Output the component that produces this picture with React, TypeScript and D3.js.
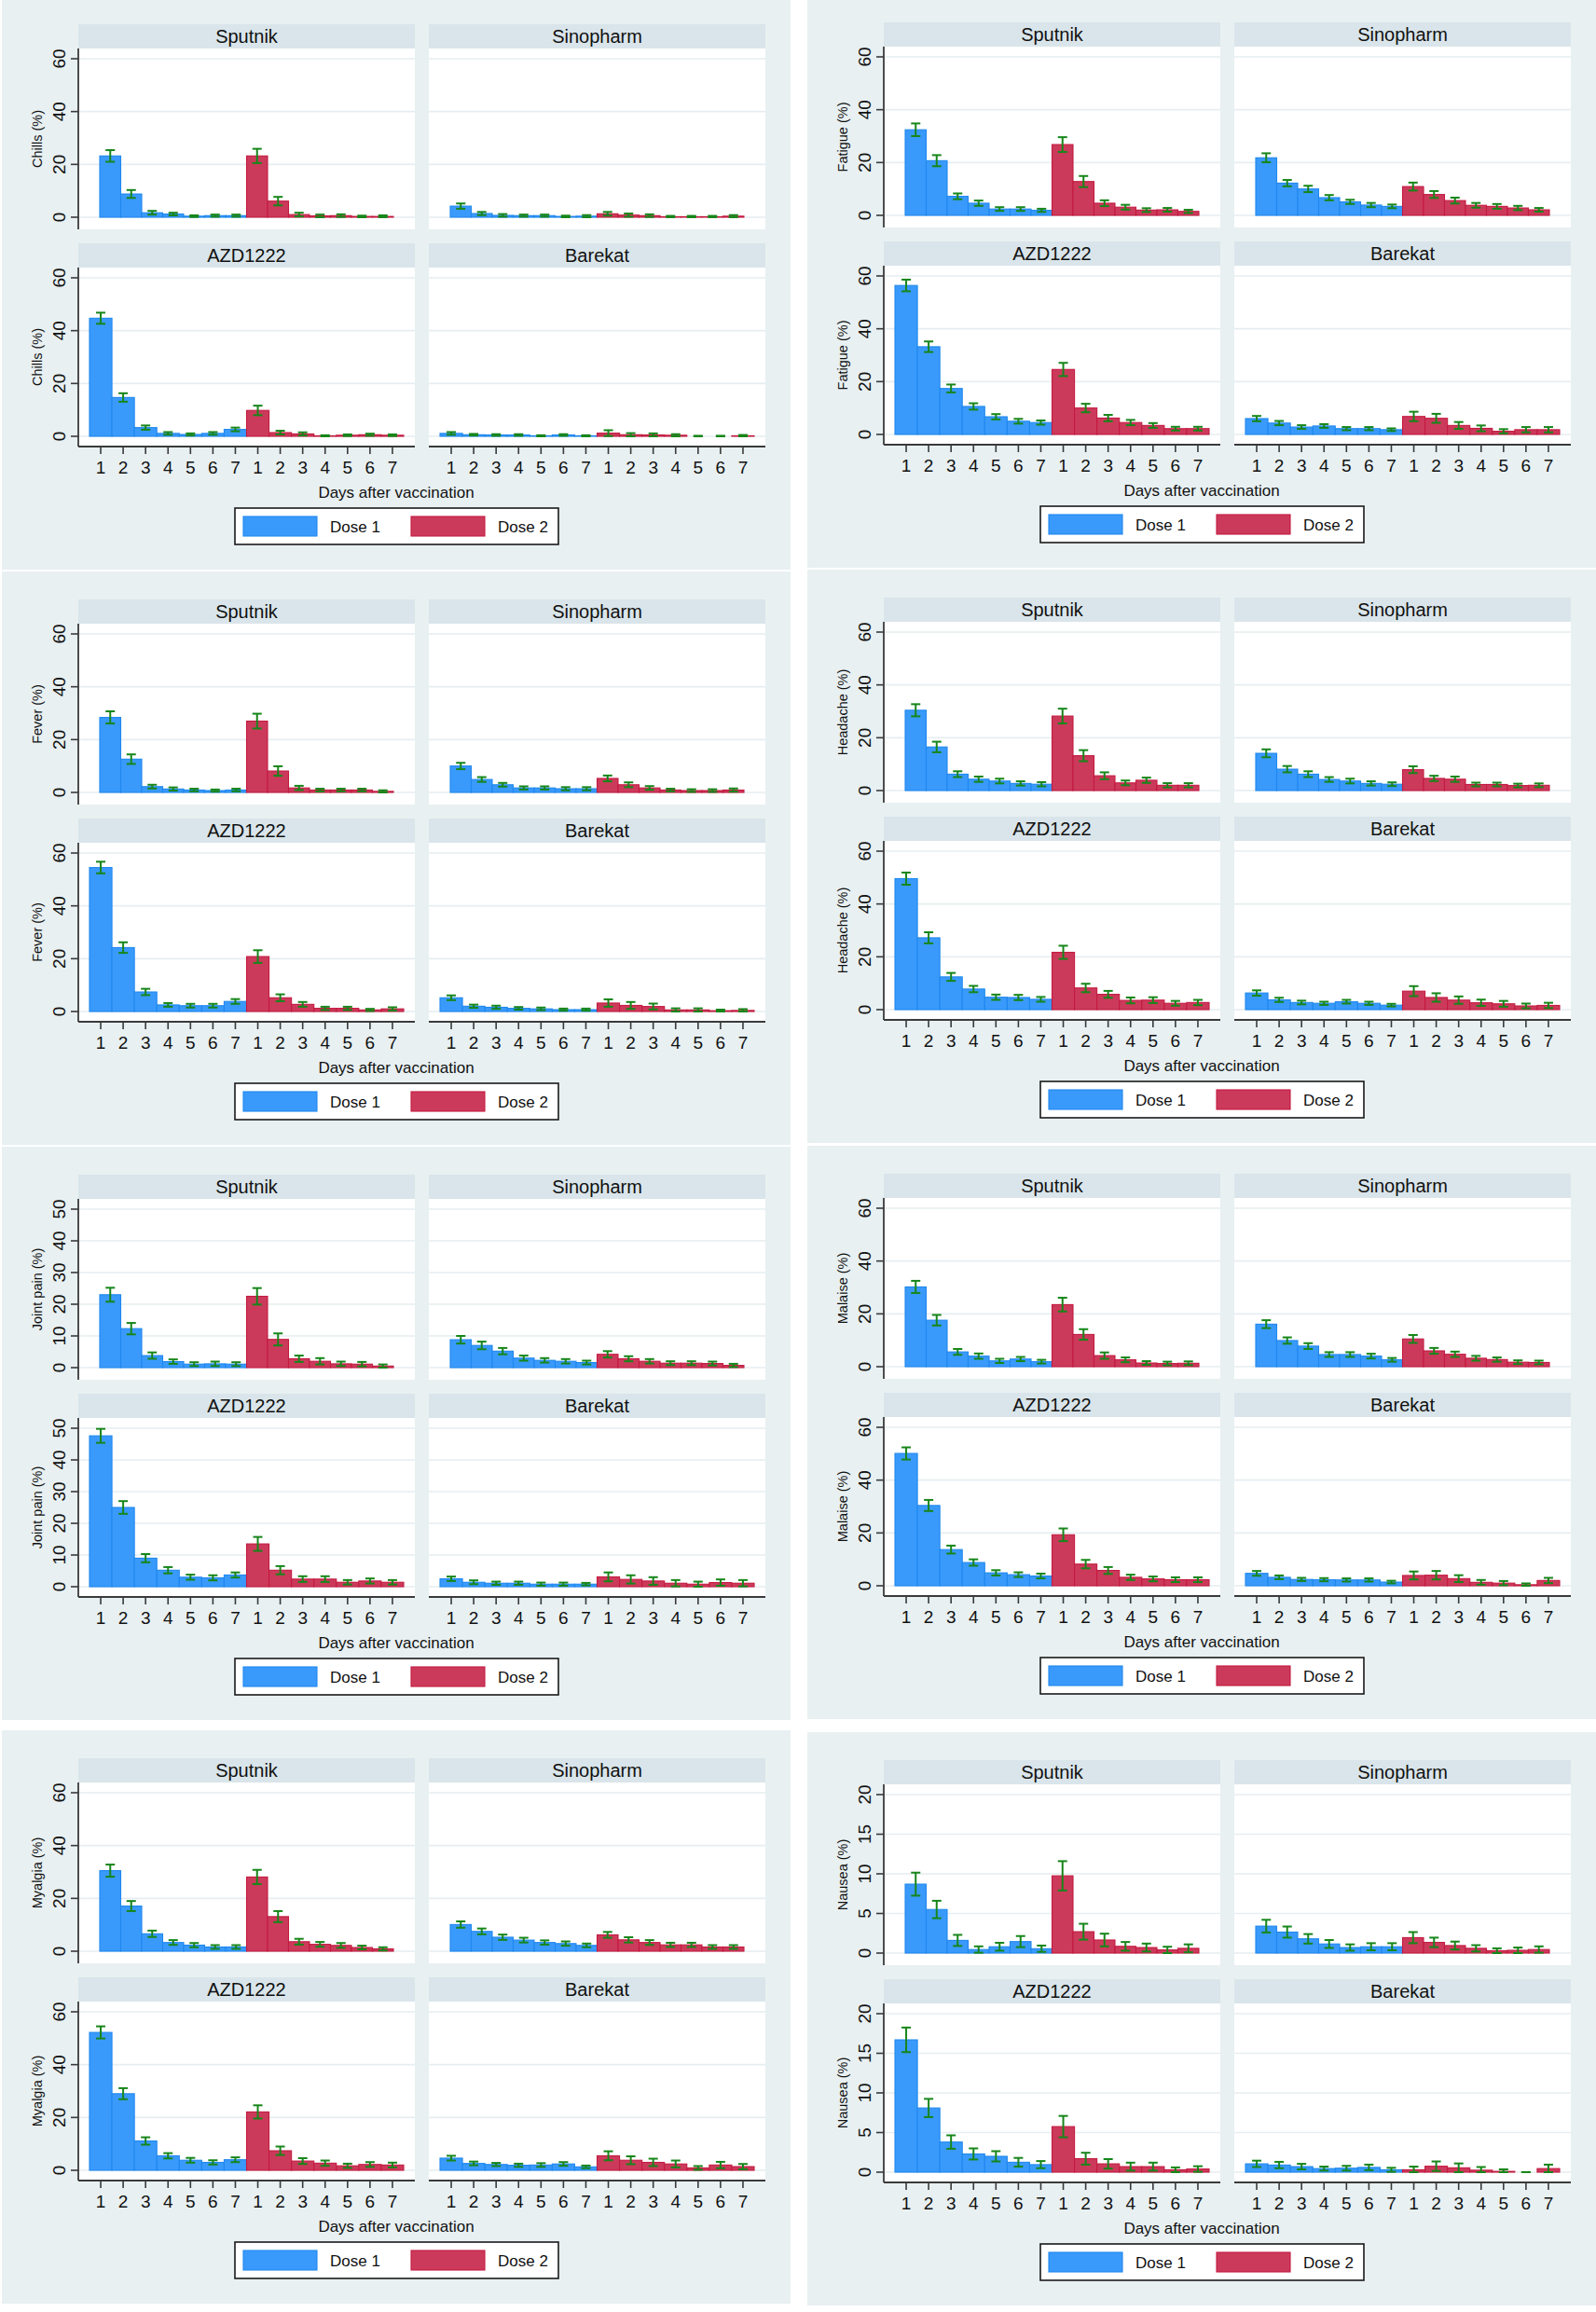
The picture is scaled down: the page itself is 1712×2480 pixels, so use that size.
import React from "react";
import * as d3 from "d3";

// vaccines in facet order: top-left, top-right, bottom-left, bottom-right
const VACCINES = ["Sputnik", "Sinopharm", "AZD1222", "Barekat"];
const DAY_LABELS = ["1", "2", "3", "4", "5", "6", "7", "1", "2", "3", "4", "5", "6", "7"];
const DOSES = ["Dose 1", "Dose 2"];

// each array: dose 1 days 1-7, then dose 2 days 1-7 (%); *Err = half width of CI
const chillsSputnik = [23.2, 8.8, 1.7, 1.2, 0.4, 0.6, 0.6, 23.2, 6.1, 1.0, 0.5, 0.6, 0.3, 0.3];
const chillsSputnikErr = [2.2, 1.5, 0.7, 0.5, 0.3, 0.4, 0.4, 2.7, 1.6, 0.7, 0.5, 0.5, 0.3, 0.4];
const chillsSinopharm = [4.2, 1.4, 0.7, 0.6, 0.6, 0.3, 0.4, 1.3, 0.8, 0.6, 0.2, 0.2, 0.2, 0.4];
const chillsSinopharmErr = [1.0, 0.6, 0.5, 0.4, 0.4, 0.3, 0.4, 0.7, 0.6, 0.5, 0.3, 0.3, 0.3, 0.4];
const chillsAZD = [44.7, 14.7, 3.3, 1.1, 0.7, 1.1, 2.6, 9.8, 1.4, 0.9, 0.2, 0.4, 0.6, 0.4];
const chillsAZDErr = [2.1, 1.6, 0.8, 0.5, 0.4, 0.5, 0.7, 1.8, 0.7, 0.6, 0.2, 0.3, 0.4, 0.3];
const chillsBarekat = [1.1, 0.6, 0.5, 0.5, 0.2, 0.5, 0.2, 1.2, 0.6, 0.5, 0.4, 0.0, 0.0, 0.2];
const chillsBarekatErr = [0.5, 0.3, 0.3, 0.3, 0.2, 0.3, 0.2, 1.1, 0.6, 0.6, 0.4, 0.2, 0.2, 0.3];

const fatigueSputnik = [32.4, 20.7, 7.2, 4.6, 2.4, 2.4, 1.9, 26.8, 12.8, 4.6, 3.1, 2.0, 2.1, 1.5];
const fatigueSputnikErr = [2.4, 2.1, 1.1, 1.0, 0.7, 0.7, 0.6, 2.8, 2.1, 1.1, 0.9, 0.7, 0.7, 0.6];
const fatigueSinopharm = [21.8, 12.2, 10.0, 6.7, 5.1, 3.9, 3.4, 10.9, 7.9, 5.6, 3.8, 3.4, 2.8, 2.1];
const fatigueSinopharmErr = [1.7, 1.2, 1.2, 1.0, 0.8, 0.8, 0.7, 1.5, 1.3, 1.1, 0.9, 0.9, 0.8, 0.7];
const fatigueAZD = [56.4, 33.2, 17.4, 10.6, 6.7, 5.0, 4.5, 24.6, 10.0, 6.2, 4.5, 3.4, 2.2, 2.2];
const fatigueAZDErr = [2.2, 2.0, 1.5, 1.2, 1.0, 0.9, 0.8, 2.5, 1.6, 1.2, 1.0, 0.9, 0.7, 0.7];
const fatigueBarekat = [6.0, 4.3, 2.8, 3.2, 2.2, 2.2, 1.8, 6.8, 6.1, 3.4, 2.3, 1.2, 1.8, 1.8];
const fatigueBarekatErr = [1.0, 0.8, 0.7, 0.7, 0.6, 0.6, 0.5, 1.8, 1.7, 1.3, 1.1, 0.8, 1.0, 1.0];

const feverSputnik = [28.4, 12.6, 2.2, 1.3, 0.9, 0.7, 0.9, 27.0, 8.1, 1.7, 0.9, 0.9, 0.9, 0.4];
const feverSputnikErr = [2.3, 1.8, 0.7, 0.6, 0.5, 0.4, 0.5, 2.8, 1.8, 0.8, 0.5, 0.5, 0.5, 0.4];
const feverSinopharm = [10.0, 4.9, 2.9, 1.7, 1.7, 1.4, 1.4, 5.3, 2.9, 1.7, 0.9, 0.7, 0.7, 0.9];
const feverSinopharmErr = [1.2, 0.9, 0.7, 0.6, 0.6, 0.6, 0.6, 1.1, 0.9, 0.7, 0.5, 0.5, 0.5, 0.6];
const feverAZD = [54.5, 24.2, 7.4, 2.5, 2.2, 2.2, 3.8, 20.8, 5.2, 2.7, 1.2, 1.2, 0.6, 1.0];
const feverAZDErr = [2.2, 2.0, 1.2, 0.7, 0.7, 0.7, 0.9, 2.4, 1.3, 0.9, 0.6, 0.6, 0.4, 0.6];
const feverBarekat = [5.2, 2.0, 1.6, 1.2, 1.0, 0.7, 0.7, 3.2, 2.3, 1.9, 0.6, 0.6, 0.3, 0.4];
const feverBarekatErr = [0.9, 0.6, 0.6, 0.5, 0.5, 0.4, 0.4, 1.4, 1.3, 1.1, 0.6, 0.6, 0.4, 0.5];

const headacheSputnik = [30.4, 16.5, 6.2, 4.3, 3.6, 2.7, 2.4, 28.2, 13.2, 5.6, 2.9, 3.9, 2.0, 2.0];
const headacheSputnikErr = [2.3, 2.0, 1.1, 1.0, 0.9, 0.8, 0.8, 2.8, 2.1, 1.3, 0.9, 1.0, 0.8, 0.8];
const headacheSinopharm = [14.1, 8.1, 6.2, 4.2, 3.6, 2.7, 2.4, 7.9, 4.6, 4.3, 2.3, 2.3, 1.9, 2.0];
const headacheSinopharmErr = [1.5, 1.2, 1.1, 0.9, 0.9, 0.8, 0.7, 1.3, 1.0, 1.0, 0.7, 0.7, 0.7, 0.7];
const headacheAZD = [49.6, 27.2, 12.4, 7.8, 4.7, 4.6, 3.9, 21.7, 8.2, 5.8, 3.5, 3.6, 2.4, 2.7];
const headacheAZDErr = [2.3, 2.1, 1.5, 1.2, 1.0, 1.0, 0.9, 2.5, 1.6, 1.3, 1.1, 1.1, 0.9, 1.0];
const headacheBarekat = [6.3, 3.7, 2.7, 2.4, 3.0, 2.4, 1.7, 7.0, 4.6, 3.6, 2.6, 2.2, 1.4, 1.6];
const headacheBarekatErr = [1.0, 0.8, 0.7, 0.6, 0.7, 0.6, 0.5, 1.9, 1.6, 1.4, 1.2, 1.1, 0.9, 1.0];

const jointSputnik = [23.0, 12.3, 3.8, 1.9, 1.1, 1.2, 1.1, 22.5, 8.9, 2.8, 2.0, 1.2, 1.1, 0.5];
const jointSputnikErr = [2.2, 1.8, 1.0, 0.7, 0.6, 0.7, 0.6, 2.6, 1.9, 1.0, 1.0, 0.7, 0.7, 0.5];
const jointSinopharm = [8.8, 7.0, 5.2, 3.0, 2.3, 2.0, 1.6, 4.2, 2.8, 2.0, 1.4, 1.4, 1.3, 0.7];
const jointSinopharmErr = [1.2, 1.2, 1.0, 0.8, 0.7, 0.7, 0.6, 1.0, 0.8, 0.7, 0.6, 0.6, 0.6, 0.5];
const jointAZD = [47.6, 25.0, 9.0, 5.2, 3.0, 2.8, 3.7, 13.5, 5.2, 2.4, 2.4, 1.4, 1.8, 1.4];
const jointAZDErr = [2.2, 2.0, 1.3, 1.0, 0.8, 0.8, 0.8, 2.2, 1.3, 0.9, 0.9, 0.7, 0.8, 0.7];
const jointBarekat = [2.5, 1.4, 1.1, 1.1, 0.8, 0.8, 0.8, 3.1, 2.3, 1.8, 1.1, 0.8, 1.3, 1.1];
const jointBarekatErr = [0.7, 0.6, 0.5, 0.5, 0.5, 0.5, 0.4, 1.4, 1.3, 1.2, 1.0, 0.8, 1.0, 1.0];

const malaiseSputnik = [30.2, 17.6, 5.6, 4.0, 2.2, 2.9, 1.9, 23.5, 12.2, 4.2, 2.6, 1.4, 1.2, 1.3];
const malaiseSputnikErr = [2.3, 2.0, 1.1, 1.0, 0.8, 0.8, 0.7, 2.6, 2.0, 1.2, 0.9, 0.7, 0.7, 0.7];
const malaiseSinopharm = [16.1, 9.9, 7.8, 4.6, 4.6, 4.0, 2.6, 10.5, 6.0, 4.7, 3.2, 2.7, 1.7, 1.6];
const malaiseSinopharmErr = [1.5, 1.2, 1.1, 0.9, 0.9, 0.9, 0.7, 1.5, 1.1, 1.0, 0.9, 0.8, 0.7, 0.7];
const malaiseAZD = [50.1, 30.4, 13.7, 8.8, 4.9, 4.2, 3.7, 19.3, 8.2, 5.8, 3.2, 2.6, 2.3, 2.3];
const malaiseAZDErr = [2.3, 2.1, 1.5, 1.2, 1.0, 0.9, 0.9, 2.4, 1.6, 1.3, 1.0, 0.9, 0.9, 0.9];
const malaiseBarekat = [4.7, 3.2, 2.4, 2.3, 2.2, 2.2, 1.4, 3.9, 4.0, 2.7, 1.3, 1.0, 0.4, 2.0];
const malaiseBarekatErr = [0.9, 0.7, 0.6, 0.6, 0.6, 0.6, 0.5, 1.5, 1.6, 1.3, 0.9, 0.8, 0.5, 1.0];

const myalgiaSputnik = [30.5, 17.1, 6.6, 3.3, 2.3, 1.6, 1.6, 28.1, 13.1, 3.6, 2.6, 2.2, 1.4, 0.9];
const myalgiaSputnikErr = [2.3, 1.9, 1.2, 0.9, 0.8, 0.7, 0.7, 2.7, 2.1, 1.1, 0.9, 0.9, 0.7, 0.6];
const myalgiaSinopharm = [10.1, 7.5, 5.3, 4.2, 3.3, 2.9, 2.2, 6.2, 4.3, 3.3, 2.4, 2.4, 1.6, 1.6];
const myalgiaSinopharmErr = [1.2, 1.1, 1.0, 0.9, 0.8, 0.8, 0.7, 1.1, 1.0, 0.9, 0.8, 0.8, 0.7, 0.7];
const myalgiaAZD = [52.2, 29.0, 11.1, 5.5, 3.8, 3.0, 4.0, 22.1, 7.4, 3.5, 2.7, 1.7, 2.2, 2.0];
const myalgiaAZDErr = [2.3, 2.1, 1.4, 1.0, 0.9, 0.8, 0.9, 2.5, 1.6, 1.1, 1.0, 0.8, 0.9, 0.9];
const myalgiaBarekat = [4.6, 2.6, 2.2, 1.9, 2.0, 2.4, 1.3, 5.5, 3.8, 3.0, 2.4, 0.9, 2.0, 1.4];
const myalgiaBarekatErr = [0.9, 0.7, 0.6, 0.6, 0.7, 0.7, 0.5, 1.7, 1.5, 1.4, 1.3, 0.7, 1.2, 1.0];

const nauseaSputnik = [8.7, 5.5, 1.6, 0.45, 0.8, 1.45, 0.55, 9.75, 2.7, 1.65, 0.85, 0.7, 0.4, 0.6];
const nauseaSputnikErr = [1.45, 1.1, 0.7, 0.4, 0.5, 0.7, 0.4, 1.85, 1.0, 0.8, 0.55, 0.5, 0.4, 0.5];
const nauseaSinopharm = [3.4, 2.65, 1.8, 1.15, 0.7, 0.8, 0.8, 1.95, 1.35, 0.95, 0.6, 0.3, 0.35, 0.45];
const nauseaSinopharmErr = [0.8, 0.7, 0.6, 0.5, 0.4, 0.45, 0.45, 0.7, 0.6, 0.5, 0.4, 0.3, 0.35, 0.4];
const nauseaAZD = [16.7, 8.1, 3.8, 2.3, 2.0, 1.25, 0.95, 5.75, 1.7, 1.05, 0.7, 0.7, 0.3, 0.4];
const nauseaAZDErr = [1.55, 1.15, 0.85, 0.7, 0.65, 0.55, 0.45, 1.35, 0.75, 0.6, 0.5, 0.5, 0.3, 0.35];
const nauseaBarekat = [1.05, 0.9, 0.7, 0.45, 0.5, 0.6, 0.3, 0.3, 0.75, 0.55, 0.25, 0.1, 0, 0.45];
const nauseaBarekatErr = [0.4, 0.4, 0.35, 0.25, 0.3, 0.35, 0.25, 0.4, 0.6, 0.55, 0.4, 0.25, 0, 0.5];

const TICKS_60 = [0, 20, 40, 60];
const TICKS_50 = [0, 10, 20, 30, 40, 50];
const TICKS_20 = [0, 5, 10, 15, 20];

interface Symptom {
  title: string;
  ticks: number[];
  values: number[][];
  errors: number[][];
}

const LEFT_COLUMN: Symptom[] = [
  {
    title: "Chills (%)",
    ticks: TICKS_60,
    values: [chillsSputnik, chillsSinopharm, chillsAZD, chillsBarekat],
    errors: [chillsSputnikErr, chillsSinopharmErr, chillsAZDErr, chillsBarekatErr],
  },
  {
    title: "Fever (%)",
    ticks: TICKS_60,
    values: [feverSputnik, feverSinopharm, feverAZD, feverBarekat],
    errors: [feverSputnikErr, feverSinopharmErr, feverAZDErr, feverBarekatErr],
  },
  {
    title: "Joint pain (%)",
    ticks: TICKS_50,
    values: [jointSputnik, jointSinopharm, jointAZD, jointBarekat],
    errors: [jointSputnikErr, jointSinopharmErr, jointAZDErr, jointBarekatErr],
  },
  {
    title: "Myalgia (%)",
    ticks: TICKS_60,
    values: [myalgiaSputnik, myalgiaSinopharm, myalgiaAZD, myalgiaBarekat],
    errors: [myalgiaSputnikErr, myalgiaSinopharmErr, myalgiaAZDErr, myalgiaBarekatErr],
  },
];

const RIGHT_COLUMN: Symptom[] = [
  {
    title: "Fatigue (%)",
    ticks: TICKS_60,
    values: [fatigueSputnik, fatigueSinopharm, fatigueAZD, fatigueBarekat],
    errors: [fatigueSputnikErr, fatigueSinopharmErr, fatigueAZDErr, fatigueBarekatErr],
  },
  {
    title: "Headache (%)",
    ticks: TICKS_60,
    values: [headacheSputnik, headacheSinopharm, headacheAZD, headacheBarekat],
    errors: [headacheSputnikErr, headacheSinopharmErr, headacheAZDErr, headacheBarekatErr],
  },
  {
    title: "Malaise (%)",
    ticks: TICKS_60,
    values: [malaiseSputnik, malaiseSinopharm, malaiseAZD, malaiseBarekat],
    errors: [malaiseSputnikErr, malaiseSinopharmErr, malaiseAZDErr, malaiseBarekatErr],
  },
  {
    title: "Nausea (%)",
    ticks: TICKS_20,
    values: [nauseaSputnik, nauseaSinopharm, nauseaAZD, nauseaBarekat],
    errors: [nauseaSputnikErr, nauseaSinopharmErr, nauseaAZDErr, nauseaBarekatErr],
  },
];

const COL_X = [2, 866];
const LEFT_TOPS = [0, 617, 1234, 1860];
const RIGHT_TOPS = [-2, 615, 1233, 1862];

const FONT = "'Liberation Sans', Arial, Helvetica, sans-serif";
const PANEL_BG = "#e8f0f2";
const STRIP_BG = "#d9e5ea";
const GRID = "#e6eef1";
const AXIS = "#3a3a3a";
const BLUE = "#3a9afb";
const BLUE_EDGE = "#1f88ee";
const RED = "#cc3a5b";
const RED_EDGE = "#c41a40";
const GREEN = "#17861a";

const PLOT_W = 361;

function Facet({ s, v, x0, T }: { s: Symptom; v: number; x0: number; T: number }) {
  const row = v < 2 ? 0 : 1;
  const col = v % 2;
  const L = x0 + (col ? 458 : 82);
  const R = L + PLOT_W;
  const hTop = T + (row ? 261 : 26);
  const pTop = hTop + 26;
  const pBot = T + (row ? 479 : 246);
  const yMax = s.ticks[s.ticks.length - 1];

  const y = d3
    .scaleLinear()
    .domain([0, yMax])
    .range([T + (row ? 468 : 233), T + (row ? 298 : 63)]);
  const x = d3
    .scaleBand<number>()
    .domain(d3.range(14))
    .range(row ? [L + 12, L + 349] : [L + 23, L + 338]);
  const bw = x.bandwidth();
  const vals = s.values[v];
  const errs = s.errors[v];

  return (
    <g>
      {/* facet strip */}
      <rect x={L} y={hTop} width={PLOT_W} height={pTop - hTop} fill={STRIP_BG} />
      <text
        x={(L + R) / 2}
        y={hTop + 20}
        textAnchor="middle"
        fontSize={20}
        fill="#111"
      >
        {VACCINES[v]}
      </text>

      <rect x={L} y={pTop} width={PLOT_W} height={pBot - pTop} fill="#fff" />

      {s.ticks.map((t) => (
        <line key={t} x1={L} x2={R} y1={y(t)} y2={y(t)} stroke={GRID} strokeWidth={1.6} />
      ))}

      {vals.map((d, i) => (
        <rect
          key={i}
          x={x(i)}
          y={y(d)}
          width={bw}
          height={y(0) - y(d)}
          fill={i < 7 ? BLUE : RED}
          stroke={i < 7 ? BLUE_EDGE : RED_EDGE}
          strokeWidth={1.1}
        />
      ))}

      {vals.map((d, i) => {
        const cx = (x(i) ?? 0) + bw / 2;
        const lo = y(Math.max(0, d - errs[i]));
        const hi = y(d + errs[i]);
        return (
          <g key={i} stroke={GREEN} strokeWidth={2}>
            <line x1={cx} x2={cx} y1={lo} y2={hi} />
            <line x1={cx - 5} x2={cx + 5} y1={lo} y2={lo} />
            <line x1={cx - 5} x2={cx + 5} y1={hi} y2={hi} />
          </g>
        );
      })}

      {col === 0 && (
        <g>
          <line x1={L} x2={L} y1={pTop} y2={pBot} stroke={AXIS} strokeWidth={1.8} />
          {s.ticks.map((t) => (
            <g key={t}>
              <line x1={L - 8} x2={L} y1={y(t)} y2={y(t)} stroke={AXIS} strokeWidth={1.6} />
              <text
                transform={`translate(${L - 14},${y(t)}) rotate(-90)`}
                textAnchor="middle"
                fontSize={19}
                fill="#111"
              >
                {t}
              </text>
            </g>
          ))}
          <text
            transform={`translate(${x0 + 43},${(pTop + pBot) / 2}) rotate(-90)`}
            textAnchor="middle"
            fontSize={14.5}
            fill="#111"
          >
            {s.title}
          </text>
        </g>
      )}

      {row === 1 && (
        <g>
          <line x1={L} x2={R} y1={pBot} y2={pBot} stroke={AXIS} strokeWidth={1.8} />
          {DAY_LABELS.map((lab, i) => {
            const cx = (x(i) ?? 0) + bw / 2;
            return (
              <g key={i}>
                <line x1={cx} x2={cx} y1={pBot} y2={pBot + 8} stroke={AXIS} strokeWidth={1.6} />
                <text x={cx} y={pBot + 29} textAnchor="middle" fontSize={19} fill="#111">
                  {lab}
                </text>
              </g>
            );
          })}
        </g>
      )}
    </g>
  );
}

function Panel({ s, x0, T }: { s: Symptom; x0: number; T: number }) {
  return (
    <g>
      <rect x={x0} y={T - 4} width={846} height={615} fill={PANEL_BG} />
      {VACCINES.map((name, v) => (
        <Facet key={name} s={s} v={v} x0={x0} T={T} />
      ))}
      <text x={x0 + 423} y={T + 534} textAnchor="middle" fontSize={17} fill="#111">
        Days after vaccination
      </text>
      <rect
        x={x0 + 250}
        y={T + 545}
        width={347}
        height={39}
        fill="#fff"
        stroke="#1a1a1a"
        strokeWidth={1.6}
      />
      {DOSES.map((dose, k) => (
        <g key={dose}>
          <rect
            x={x0 + 259 + k * 180}
            y={T + 554}
            width={79}
            height={21}
            fill={k === 0 ? BLUE : RED}
            stroke={k === 0 ? BLUE_EDGE : RED_EDGE}
            strokeWidth={1.1}
          />
          <text x={x0 + 352 + k * 180} y={T + 571} fontSize={17} fill="#111">
            {dose}
          </text>
        </g>
      ))}
    </g>
  );
}

export default function App() {
  return (
    <svg
      width={1712}
      height={2480}
      style={{ position: "absolute", left: 0, top: 0, display: "block", background: "#fff" }}
      fontFamily={FONT}
    >
      {LEFT_COLUMN.map((s, i) => (
        <Panel key={s.title} s={s} x0={COL_X[0]} T={LEFT_TOPS[i]} />
      ))}
      {RIGHT_COLUMN.map((s, i) => (
        <Panel key={s.title} s={s} x0={COL_X[1]} T={RIGHT_TOPS[i]} />
      ))}
    </svg>
  );
}
